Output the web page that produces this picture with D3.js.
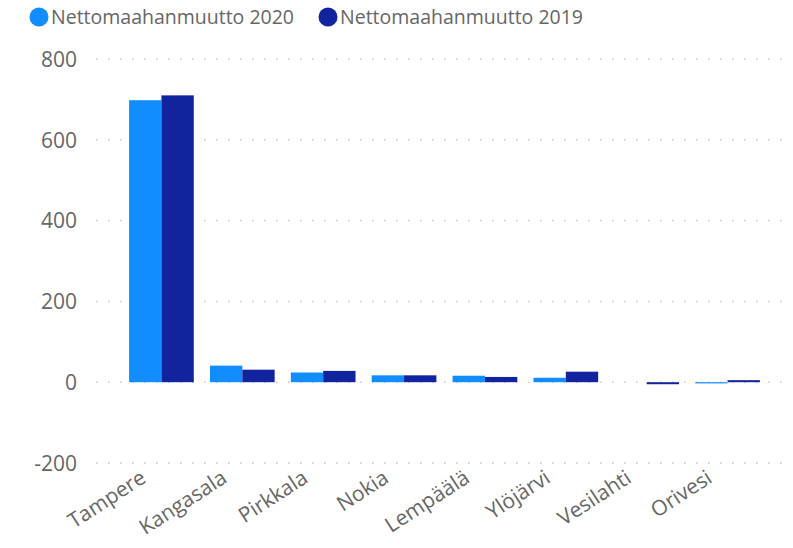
<!DOCTYPE html>
<html><head><meta charset="utf-8">
<script src="https://cdn.jsdelivr.net/npm/d3@7"></script>
<style>body{margin:0;background:#fff}svg{display:block;font-family:"Open Sans","Noto Sans",sans-serif}</style>
</head><body>
<script>
const categories = ["Tampere","Kangasala","Pirkkala","Nokia","Lempäälä","Ylöjärvi","Vesilahti","Orivesi"];
const series2020 = [698, 41, 24, 17, 16, 11, 0, -3];
const series2019 = [710, 31, 28, 17, 13, 26, -5, 5];
const seriesNames = ["Nettomaahanmuutto 2020","Nettomaahanmuutto 2019"];
const yTicks = [-200, 0, 200, 400, 600, 800];
const colors = ["#118DFF","#12239E"];

const W = 793, H = 548;
const FONT = '"Open Sans","Noto Sans",sans-serif';
const svg = d3.select("body").append("svg").attr("width", W).attr("height", H);
const y = d3.scaleLinear().domain([-200, 800]).range([463, 59]);
const x = d3.scaleBand().domain(categories).range([121, 768]).paddingInner(0.2).paddingOuter(0.1);
const xs = d3.scaleBand().domain([0,1]).range([0, x.bandwidth()]);

// grid
svg.append("g").selectAll("line").data(yTicks).join("line")
  .attr("x1", 96).attr("x2", 786).attr("y1", d=>y(d)).attr("y2", d=>y(d))
  .attr("stroke", "#c8c8c8").attr("stroke-width", 1.5).attr("stroke-dasharray", "1.5,10.5");

// y axis
const ya = svg.append("g").attr("transform","translate(77,0)")
  .call(d3.axisLeft(y).tickValues(yTicks).tickFormat(d=>String(d)).tickSize(0).tickPadding(0));
ya.attr("font-family", FONT);
ya.select(".domain").remove();
ya.selectAll("text").attr("font-size", 21).attr("fill", "#666").attr("dy","0.35em");

// bars
const data = categories.map((c,i)=>({c, v:[series2020[i], series2019[i]]}));
const g = svg.append("g").selectAll("g").data(data).join("g").attr("transform", d=>`translate(${x(d.c)},0)`);
g.selectAll("rect").data(d=>d.v.map((v,k)=>({v,k}))).join("rect")
  .attr("x", d=>xs(d.k)).attr("width", xs.bandwidth())
  .attr("y", d=>y(Math.max(0,d.v))).attr("height", d=>Math.abs(y(d.v)-y(0)))
  .attr("fill", d=>colors[d.k]);

// x axis labels
const xa = svg.append("g").attr("transform","translate(-22,469)")
  .call(d3.axisBottom(x).tickSize(0).tickPadding(0));
xa.attr("font-family", FONT);
xa.select(".domain").remove();
xa.selectAll("text").attr("font-size", 21).attr("fill","#666")
  .attr("text-anchor","end").attr("dy","0.7em")
  .attr("transform","rotate(-33)");

// legend
const legX = [39, 328];
const leg = svg.append("g").selectAll("g").data(seriesNames).join("g").attr("transform",(d,i)=>`translate(${legX[i]},17)`);
leg.append("circle").attr("r", 9.5).attr("fill", (d,i)=>colors[i]);
leg.append("text").attr("x", 12).attr("dy","0.35em").attr("font-size", 19.5).attr("fill","#666").text(d=>d);
</script>
</body></html>
